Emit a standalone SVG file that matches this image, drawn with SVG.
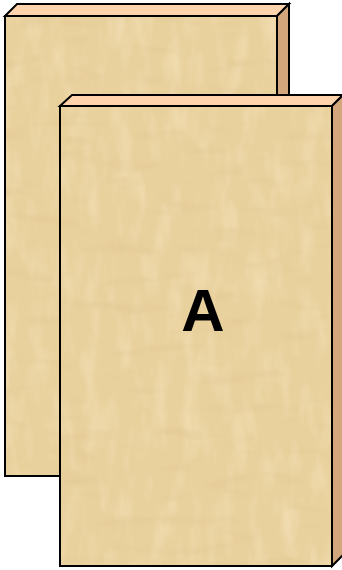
<svg xmlns="http://www.w3.org/2000/svg" width="342" height="570" viewBox="0 0 342 570">
  <style>
    .face { fill: #E9D19D; }
    .top { fill: #FFD4AC; stroke: #000; stroke-width: 2; stroke-linejoin: miter; }
    .side { fill: #D3A67C; stroke: #000; stroke-width: 2; }
    .edge { fill: none; stroke: #000; stroke-width: 2; }
    .label { font-family: "Liberation Sans", Arial, sans-serif; font-weight: bold; font-size: 60px; fill: #000; }
  </style>
  <defs>
    <filter id="papyrus" x="0" y="0" width="100%" height="100%" color-interpolation-filters="sRGB">
      <feTurbulence type="fractalNoise" baseFrequency="0.06 0.02" numOctaves="3" seed="7" result="n1"/>
      <feColorMatrix in="n1" type="matrix" values="0 0 0 0 0.97  0 0 0 0 0.90  0 0 0 0 0.76  1.2 0 0 0 -0.55" result="light"/>
      <feTurbulence type="fractalNoise" baseFrequency="0.02 0.07" numOctaves="2" seed="11" result="n2"/>
      <feColorMatrix in="n2" type="matrix" values="0 0 0 0 0.86  0 0 0 0 0.75  0 0 0 0 0.54  1.0 0 0 0 -0.55" result="dark"/>
      <feMerge result="m">
        <feMergeNode in="SourceGraphic"/>
        <feMergeNode in="light"/>
        <feMergeNode in="dark"/>
      </feMerge>
      <feComposite in="m" in2="SourceGraphic" operator="in"/>
    </filter>
  </defs>

  <g id="board-back">
    <polygon class="top" points="5,16 17,4 289,4 277,16"/>
    <polygon class="side" points="277,16 289,4 289,464 277,476"/>
    <rect class="face" x="5" y="16" width="272" height="460" filter="url(#papyrus)"/>
    <rect class="edge" x="5" y="16" width="272" height="460"/>
  </g>

  <g id="board-front">
    <polygon class="top" points="60,106 72,95 343,95 332,106"/>
    <polygon class="side" points="332,106 343,95 343,555 332,566"/>
    <rect class="face" x="60" y="106" width="272" height="460" filter="url(#papyrus)"/>
    <rect class="edge" x="60" y="106" width="272" height="460"/>
    <text class="label" x="203" y="331" text-anchor="middle">A</text>
  </g>
</svg>
